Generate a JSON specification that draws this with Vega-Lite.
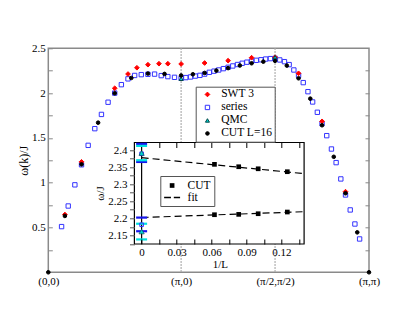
{
  "$schema": "https://vega.github.io/schema/vega-lite/v6.json",
  "width": 320.7,
  "height": 224,
  "autosize": "none",
  "padding": {"left": 48.3, "top": 48.3, "right": 46, "bottom": 48.7},
  "background": "white",
  "config": {
    "font": "Liberation Serif",
    "view": {"stroke": "#8a8a8a", "strokeWidth": 1.5},
    "axis": {"labelFont": "Liberation Serif", "titleFont": "Liberation Serif", "labelColor": "black", "titleColor": "black", "grid": false, "titleFontWeight": "normal", "labelFontSize": 11, "titleFontSize": 12, "labelOverlap": false, "labelFlush": false},
    "legend": {"labelFont": "Liberation Serif", "labelColor": "black"}
  },
  "layer": [
    {
      "data": {"values": [
        {"x": 0.10, "y": 0.510, "s": "series"}, {"x": 0.15, "y": 0.740, "s": "series"}, {"x": 0.20, "y": 0.976, "s": "series"}, {"x": 0.25, "y": 1.20, "s": "series"},
        {"x": 0.30, "y": 1.417, "s": "series"}, {"x": 0.35, "y": 1.603, "s": "series"}, {"x": 0.40, "y": 1.762, "s": "series"}, {"x": 0.45, "y": 1.898, "s": "series"},
        {"x": 0.50, "y": 2.00, "s": "series"}, {"x": 0.55, "y": 2.094, "s": "series"}, {"x": 0.60, "y": 2.159, "s": "series"}, {"x": 0.65, "y": 2.197, "s": "series"},
        {"x": 0.70, "y": 2.206, "s": "series"}, {"x": 0.75, "y": 2.21, "s": "series"}, {"x": 0.80, "y": 2.212, "s": "series"}, {"x": 0.85, "y": 2.195, "s": "series"},
        {"x": 0.90, "y": 2.184, "s": "series"}, {"x": 0.95, "y": 2.176, "s": "series"}, {"x": 1.00, "y": 2.165, "s": "series"},
        {"x": 1.0354, "y": 2.173, "s": "series"}, {"x": 1.0707, "y": 2.180, "s": "series"}, {"x": 1.1061, "y": 2.190, "s": "series"}, {"x": 1.1414, "y": 2.198, "s": "series"},
        {"x": 1.1768, "y": 2.212, "s": "series"}, {"x": 1.2121, "y": 2.232, "s": "series"}, {"x": 1.2475, "y": 2.245, "s": "series"}, {"x": 1.2828, "y": 2.258, "s": "series"},
        {"x": 1.3182, "y": 2.273, "s": "series"}, {"x": 1.3536, "y": 2.288, "s": "series"}, {"x": 1.3889, "y": 2.303, "s": "series"}, {"x": 1.4243, "y": 2.319, "s": "series"},
        {"x": 1.4596, "y": 2.333, "s": "series"}, {"x": 1.4950, "y": 2.345, "s": "series"}, {"x": 1.5303, "y": 2.357, "s": "series"}, {"x": 1.5657, "y": 2.366, "s": "series"},
        {"x": 1.6010, "y": 2.372, "s": "series"}, {"x": 1.6364, "y": 2.380, "s": "series"}, {"x": 1.6718, "y": 2.385, "s": "series"}, {"x": 1.7071, "y": 2.388, "s": "series"},
        {"x": 1.7425, "y": 2.370, "s": "series"}, {"x": 1.7778, "y": 2.351, "s": "series"}, {"x": 1.8132, "y": 2.318, "s": "series"}, {"x": 1.8485, "y": 2.258, "s": "series"},
        {"x": 1.8839, "y": 2.198, "s": "series"}, {"x": 1.9192, "y": 2.117, "s": "series"}, {"x": 1.9546, "y": 2.016, "s": "series"}, {"x": 1.9899, "y": 1.901, "s": "series"},
        {"x": 2.0253, "y": 1.786, "s": "series"}, {"x": 2.0607, "y": 1.66, "s": "series"}, {"x": 2.0960, "y": 1.525, "s": "series"}, {"x": 2.1314, "y": 1.376, "s": "series"},
        {"x": 2.1667, "y": 1.224, "s": "series"}, {"x": 2.2021, "y": 1.042, "s": "series"}, {"x": 2.2374, "y": 0.863, "s": "series"}, {"x": 2.2728, "y": 0.696, "s": "series"},
        {"x": 2.3081, "y": 0.539, "s": "series"}, {"x": 2.3435, "y": 0.372, "s": "series"},
        {"x": 0.125, "y": 0.645, "s": "SWT 3"}, {"x": 0.25, "y": 1.233, "s": "SWT 3"}, {"x": 0.5, "y": 2.054, "s": "SWT 3"}, {"x": 0.6, "y": 2.213, "s": "SWT 3"},
        {"x": 0.667, "y": 2.283, "s": "SWT 3"}, {"x": 0.75, "y": 2.317, "s": "SWT 3"}, {"x": 0.833, "y": 2.328, "s": "SWT 3"}, {"x": 0.9, "y": 2.328, "s": "SWT 3"},
        {"x": 1.0, "y": 2.325, "s": "SWT 3"}, {"x": 1.1768, "y": 2.336, "s": "SWT 3"}, {"x": 1.3536, "y": 2.362, "s": "SWT 3"}, {"x": 1.5303, "y": 2.395, "s": "SWT 3"},
        {"x": 1.7071, "y": 2.40, "s": "SWT 3"}, {"x": 1.8839, "y": 2.221, "s": "SWT 3"}, {"x": 2.0607, "y": 1.685, "s": "SWT 3"}, {"x": 2.2374, "y": 0.90, "s": "SWT 3"},
        {"x": 1.0, "y": 2.16, "s": "QMC"}, {"x": 1.7071, "y": 2.40, "s": "QMC"},
        {"x": 0, "y": 0, "s": "CUT L=16"}, {"x": 0.125, "y": 0.629, "s": "CUT L=16"}, {"x": 0.25, "y": 1.205, "s": "CUT L=16"}, {"x": 0.375, "y": 1.670, "s": "CUT L=16"},
        {"x": 0.5, "y": 1.998, "s": "CUT L=16"}, {"x": 0.625, "y": 2.169, "s": "CUT L=16"}, {"x": 0.75, "y": 2.218, "s": "CUT L=16"}, {"x": 0.875, "y": 2.214, "s": "CUT L=16"},
        {"x": 1.0, "y": 2.197, "s": "CUT L=16"}, {"x": 1.0884, "y": 2.210, "s": "CUT L=16"}, {"x": 1.1768, "y": 2.225, "s": "CUT L=16"}, {"x": 1.2652, "y": 2.251, "s": "CUT L=16"},
        {"x": 1.3536, "y": 2.279, "s": "CUT L=16"}, {"x": 1.4419, "y": 2.308, "s": "CUT L=16"}, {"x": 1.5303, "y": 2.333, "s": "CUT L=16"}, {"x": 1.6187, "y": 2.351, "s": "CUT L=16"},
        {"x": 1.7071, "y": 2.360, "s": "CUT L=16"}, {"x": 1.7955, "y": 2.307, "s": "CUT L=16"}, {"x": 1.8839, "y": 2.165, "s": "CUT L=16"}, {"x": 1.9723, "y": 1.938, "s": "CUT L=16"},
        {"x": 2.0607, "y": 1.641, "s": "CUT L=16"}, {"x": 2.1490, "y": 1.289, "s": "CUT L=16"}, {"x": 2.2374, "y": 0.882, "s": "CUT L=16"}, {"x": 2.3258, "y": 0.446, "s": "CUT L=16"},
        {"x": 2.41421, "y": 0, "s": "CUT L=16"}
      ]},
      "encoding": {
        "x": {"field": "x", "type": "quantitative", "scale": {"domain": [0, 2.41421], "nice": false, "zero": false},
          "axis": {"orient": "bottom", "values": [0, 1, 1.70711, 2.41421], "labelExpr": "datum.value < 0.5 ? '(0,0)' : datum.value < 1.5 ? '(π,0)' : datum.value < 2 ? '(π/2,π/2)' : '(π,π)'", "ticks": false, "domain": false, "labelPadding": 3, "title": null}}
      },
      "layer": [
        {
          "data": {"values": [{"x": 1}, {"x": 1.70711}]},
          "mark": {"type": "rule", "color": "#aaaaaa", "strokeDash": [1.5, 1.5], "strokeWidth": 1.5},
          "encoding": {}
        },
        {
          "mark": {"type": "point", "opacity": 1, "strokeWidth": 1},
          "encoding": {
            "y": {"field": "y", "type": "quantitative", "scale": {"domain": [0, 2.5], "nice": false, "zero": false},
              "axis": {"orient": "left", "values": [0.25, 0.5, 0.75, 1, 1.25, 1.5, 1.75, 2, 2.25, 2.5], "labelExpr": "datum.value % 0.5 == 0 ? format(datum.value, '~g') : ''", "tickSize": -4, "tickColor": "#888888", "labelPadding": 7, "domain": false, "title": "ω(k)/J", "titlePadding": 1.5}},
            "shape": {"field": "s", "type": "nominal", "scale": {"domain": ["SWT 3", "series", "QMC", "CUT L=16"], "range": ["diamond", "square", "triangle-up", "circle"]},
              "legend": {"orient": "none", "legendX": 147.4, "legendY": 38.4, "title": null, "strokeColor": "#555555", "fillColor": "white", "padding": 2, "symbolOffset": 4, "rowPadding": 0, "labelFontSize": 11.5, "labelOffset": 8}},
            "fill": {"field": "s", "type": "nominal", "scale": {"domain": ["SWT 3", "series", "QMC", "CUT L=16"], "range": ["#ff0000", "transparent", "#00d4d4", "#000000"]}},
            "stroke": {"field": "s", "type": "nominal", "scale": {"domain": ["SWT 3", "series", "QMC", "CUT L=16"], "range": ["#ff0000", "#3333ff", "#004848", "#000000"]}},
            "size": {"field": "s", "type": "nominal", "scale": {"domain": ["SWT 3", "series", "QMC", "CUT L=16"], "range": [22, 13, 30, 24]}},
            "strokeWidth": {"field": "s", "type": "nominal", "scale": {"domain": ["SWT 3", "series", "QMC", "CUT L=16"], "range": [1, 1, 0.6, 1]}, "legend": null}
          }
        },
        {
          "mark": {"type": "point", "opacity": 0},
          "encoding": {
            "y": {"field": "y", "type": "quantitative", "axis": {"orient": "right", "values": [0.25, 0.5, 0.75, 1, 1.25, 1.5, 1.75, 2, 2.25], "labels": false, "tickSize": -4, "tickColor": "#888888", "domain": false, "title": null}}
          }
        }
      ],
      "resolve": {"axis": {"y": "independent"}}
    },
    {
      "encoding": {
        "y": {"field": "y", "type": "quantitative", "scale": {"domain": [2.0417, 2.698], "nice": false, "zero": false},
          "axis": {"orient": "left", "offset": -86.2, "zindex": 1, "values": [2.125, 2.15, 2.175, 2.2, 2.225, 2.25, 2.275, 2.3, 2.325, 2.35, 2.375, 2.4], "labelExpr": "round(datum.value*1000) % 50 == 0 ? format(datum.value, '~g') : ''", "domain": false, "tickSize": 5, "tickColor": "#555555", "labelPadding": 2.5, "title": "ω/J", "titleFontSize": 11, "titleX": -34.5, "titleY": 144.7, "titleBaseline": "middle", "titleAngle": -90, "titleAlign": "center"}}
      },
      "layer": [
        {
          "data": {"values": [{"x1": -0.0062, "x2": 0.1394, "y": 2.1246, "y2": 2.422}]},
          "mark": {"type": "rect", "fill": "white", "stroke": "black", "strokeWidth": 1.2},
          "encoding": {
            "x": {"field": "x1", "type": "quantitative", "scale": {"domain": [-0.08006, 0.19508], "nice": false, "zero": false},
              "axis": {"orient": "bottom", "offset": -28.3, "zindex": 1, "values": [0, 0.015, 0.03, 0.045, 0.06, 0.075, 0.09, 0.105, 0.12, 0.135], "labelExpr": "round(datum.value*1000) % 30 == 0 ? format(datum.value, '~g') : ''", "domain": false, "tickSize": -5, "tickColor": "black", "labelPadding": 7.5, "title": "1/L", "titleFontSize": 11, "titleX": 171.5, "titleY": 20, "titleBaseline": "middle", "titleAlign": "center"}},
            "x2": {"field": "x2"},
            "y2": {"field": "y2"}
          }
        },
        {
          "data": {"values": [{"x": 0, "y": 2.1246, "y2": 2.422}]},
          "mark": {"type": "rule", "color": "black", "strokeWidth": 1.2},
          "encoding": {
            "x": {"field": "x", "type": "quantitative", "axis": null},
            "y2": {"field": "y2"}
          }
        },
        {
          "data": {"values": [
            {"x": 0, "y": 2.3775, "g": "upper"}, {"x": 0.1394, "y": 2.3308, "g": "upper"},
            {"x": 0, "y": 2.2022, "g": "lower"}, {"x": 0.1394, "y": 2.2192, "g": "lower"}
          ]},
          "mark": {"type": "line", "color": "black", "strokeWidth": 1.2, "strokeDash": [7, 4]},
          "encoding": {
            "x": {"field": "x", "type": "quantitative", "axis": null},
            "detail": {"field": "g"}
          }
        },
        {
          "data": {"values": [{"x": 0, "y": 2.365}, {"x": 0, "y": 2.418}, {"x": 0, "y": 2.162}, {"x": 0, "y": 2.202}]},
          "mark": {"type": "tick", "orient": "horizontal", "color": "#1515ee", "size": 11, "thickness": 2.2, "opacity": 1},
          "encoding": {
            "x": {"field": "x", "type": "quantitative", "axis": null}
          }
        },
        {
          "data": {"values": [{"x": 0, "y": 2.370}, {"x": 0, "y": 2.412}, {"x": 0, "y": 2.138}, {"x": 0, "y": 2.184}]},
          "mark": {"type": "tick", "orient": "horizontal", "color": "#00e0e0", "size": 11, "thickness": 2.2, "opacity": 1},
          "encoding": {
            "x": {"field": "x", "type": "quantitative", "axis": null}
          }
        },
        {
          "data": {"values": [{"x": 0, "y": 2.389}, {"x": 0, "y": 2.181}]},
          "mark": {"type": "point", "shape": "square", "stroke": "#3333ff", "fill": "transparent", "size": 13, "strokeWidth": 1, "opacity": 1},
          "encoding": {
            "x": {"field": "x", "type": "quantitative", "axis": null}
          }
        },
        {
          "data": {"values": [{"x": 0, "y": 2.391}, {"x": 0, "y": 2.161}]},
          "mark": {"type": "point", "shape": "triangle-up", "stroke": "#004848", "fill": "#00d4d4", "size": 28, "strokeWidth": 0.6, "opacity": 1},
          "encoding": {
            "x": {"field": "x", "type": "quantitative", "axis": null}
          }
        },
        {
          "data": {"values": [
            {"x": 0.0625, "y": 2.358, "k": "CUT"}, {"x": 0.0833, "y": 2.351, "k": "CUT"}, {"x": 0.1, "y": 2.345, "k": "CUT"}, {"x": 0.125, "y": 2.3364, "k": "CUT"},
            {"x": 0.0625, "y": 2.2104, "k": "CUT"}, {"x": 0.0833, "y": 2.2114, "k": "CUT"}, {"x": 0.1, "y": 2.2133, "k": "CUT"}, {"x": 0.125, "y": 2.2183, "k": "CUT"}
          ]},
          "layer": [
            {
              "mark": {"type": "point", "filled": true, "color": "black", "size": 130, "opacity": 1},
              "encoding": {
                "x": {"field": "x", "type": "quantitative", "axis": null},
                "shape": {"field": "k", "type": "nominal", "scale": {"domain": ["CUT", "fit"], "range": ["M-0.41,-0.41H0.41V0.41H-0.41Z", "M-1.4,-0.11H-0.2V0.11H-1.4Z M0.3,-0.11H1.4V0.11H0.3Z"]},
                  "legend": {"orient": "none", "legendX": 112, "legendY": 127.7, "title": null, "strokeColor": "#555555", "fillColor": "white", "padding": 3, "rowPadding": 0, "labelFontSize": 11.5, "symbolOffset": 2.3, "labelOffset": 9, "symbolSize": 130}}
              }
            },
            {
              "mark": {"type": "point", "opacity": 0},
              "encoding": {
                "x": {"field": "x", "type": "quantitative", "axis": {"orient": "top", "offset": -94.2, "zindex": 1, "values": [0.015, 0.03, 0.045, 0.06, 0.075, 0.09, 0.105, 0.12, 0.135], "labels": false, "tickSize": -5, "tickColor": "black", "domain": false, "title": null}}
              }
            }
          ],
          "resolve": {"axis": {"x": "independent"}}
        }
      ],
      "resolve": {"axis": {"x": "independent"}}
    }
  ],
  "resolve": {"scale": {"x": "independent", "y": "independent", "shape": "independent", "fill": "independent", "stroke": "independent", "size": "independent", "strokeWidth": "independent"}}
}
